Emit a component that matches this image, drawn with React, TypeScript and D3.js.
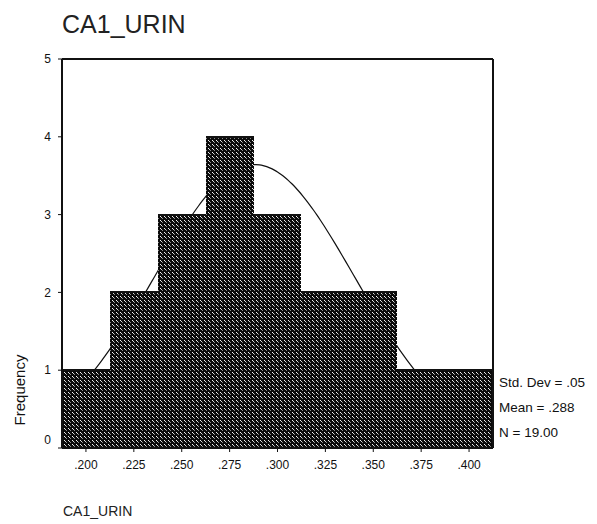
import React from 'react';
import { scaleLinear, line, curveBasis, range } from 'd3';

// histogram bins (centre of each .025 wide bin) and their counts
const binCenters = [0.2, 0.225, 0.25, 0.275, 0.3, 0.325, 0.35, 0.375, 0.4];
const counts = [1, 2, 3, 4, 3, 2, 2, 1, 1];
const binWidth = 0.025;

const xTickLabels = ['.200', '.225', '.250', '.275', '.300', '.325', '.350', '.375', '.400'];
const yTicks = [0, 1, 2, 3, 4, 5];

// normal curve parameters
const mean = 0.288;
const stdDev = 0.052;
const nCases = 19;
const statLines = ['Std. Dev = .05', 'Mean = .288', 'N = 19.00'];

const title = 'CA1_URIN';
const yLabel = 'Frequency';

const W = 597;
const H = 524;
const left = 62;
const right = 493;
const top = 59;
const bottom = 448;

const App: React.FC = () => {
  const x = scaleLinear()
    .domain([binCenters[0] - binWidth / 2, binCenters[binCenters.length - 1] + binWidth / 2])
    .range([left, right]);
  const y = scaleLinear().domain([0, 5]).range([bottom, top]);

  // Define the normal curve
  const [d0, d1] = x.domain();
  const curvePts = range(0, 121).map((i) => {
    const v = d0 + ((d1 - d0) * i) / 120;
    const z = (v - mean) / stdDev;
    const f = (nCases * binWidth * Math.exp(-0.5 * z * z)) / (stdDev * Math.sqrt(2 * Math.PI));
    return [v, f] as [number, number];
  });
  const normalLine = line<[number, number]>()
    .x((d) => x(d[0]))
    .y((d) => y(d[1]))
    .curve(curveBasis);

  const font = 'Arial, "Liberation Sans", sans-serif';

  return (
    <svg width={W} height={H} style={{ position: 'absolute', left: 0, top: 0, background: '#fff' }}>
      <defs>
        <pattern id="hatch" width={4} height={4} patternUnits="userSpaceOnUse">
          <rect width={4} height={4} fill="#0a0a0a" />
          <rect x={0} y={0} width={1} height={1} fill="#f2f2f2" />
          <rect x={1} y={1} width={1} height={1} fill="#d8d8d8" />
          <rect x={2} y={2} width={1} height={1} fill="#8a8a8a" />
        </pattern>
        <clipPath id="plot">
          <rect x={left} y={top} width={right - left} height={bottom - top} />
        </clipPath>
      </defs>

      {/* title */}
      <text x={62} y={33} fontFamily={font} fontSize={25} fill="#222">
        {title}
      </text>

      {/* normal curve, drawn under the bars */}
      <path
        d={normalLine(curvePts) ?? ''}
        fill="none"
        stroke="#111"
        strokeWidth={1.2}
        clipPath="url(#plot)"
      />

      {/* bars */}
      <g shapeRendering="crispEdges">
        {binCenters.map((c, i) => {
          const x0 = Math.round(x(c - binWidth / 2));
          const x1 = Math.round(x(c + binWidth / 2));
          return (
            <rect
              key={c}
              x={x0}
              y={Math.round(y(counts[i]))}
              width={x1 - x0}
              height={bottom - Math.round(y(counts[i]))}
              fill="url(#hatch)"
            />
          );
        })}
        {binCenters.map((c, i) => {
          const x0 = Math.round(x(c - binWidth / 2));
          const x1 = Math.round(x(c + binWidth / 2));
          const yy = Math.round(y(counts[i]));
          return (
            <line key={c} x1={x0} x2={x1} y1={yy} y2={yy} stroke="#111" strokeWidth={1.5} />
          );
        })}
      </g>

      {/* frame */}
      <g stroke="#111" strokeWidth={1.5} fill="none" shapeRendering="crispEdges">
        <line x1={left} x2={right} y1={top} y2={top} />
        <line x1={right} x2={right} y1={top} y2={bottom} />
        <line x1={left} x2={left} y1={top} y2={bottom} />
        <line x1={left} x2={right} y1={bottom} y2={bottom} />
      </g>

      {/* y axis */}
      {yTicks.map((t) => (
        <g key={t}>
          <line x1={left - 4} x2={left} y1={y(t)} y2={y(t)} stroke="#111" />
          <text
            x={left - 11}
            y={t === 0 ? y(t) - 8 : y(t)}
            dy="0.35em"
            textAnchor="end"
            fontFamily={font}
            fontSize={12}
            fill="#111"
          >
            {t}
          </text>
        </g>
      ))}
      <text
        transform={`translate(25, 390) rotate(-90)`}
        textAnchor="middle"
        fontFamily={font}
        fontSize={15}
        fill="#111"
      >
        {yLabel}
      </text>

      {/* x axis */}
      {binCenters.map((c, i) => (
        <g key={c}>
          <line x1={x(c)} x2={x(c)} y1={bottom} y2={bottom + 4} stroke="#111" />
          <text x={x(c)} y={469} textAnchor="middle" fontFamily={font} fontSize={12} fill="#111">
            {xTickLabels[i]}
          </text>
        </g>
      ))}
      <text x={63} y={516} fontFamily={font} fontSize={14} fill="#222">
        {title}
      </text>

      {/* stats */}
      {statLines.map((s, i) => (
        <text key={s} x={499} y={387 + i * 25} fontFamily={font} fontSize={13.5} fill="#111">
          {s}
        </text>
      ))}
    </svg>
  );
};

export default App;
